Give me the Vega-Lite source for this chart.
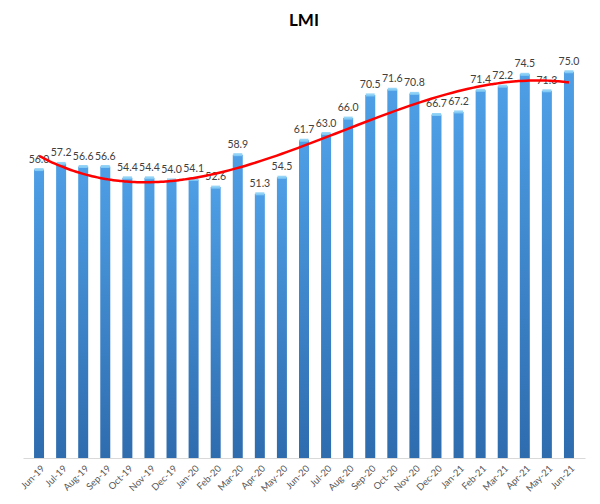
{
  "$schema": "https://vega.github.io/schema/vega-lite/v6.json",
  "autosize": "none",
  "width": 562,
  "height": 412,
  "padding": {"left": 23, "top": 46, "right": 15, "bottom": 46},
  "background": "white",
  "title": {"text": "LMI", "fontSize": 17, "font": "Lato", "fontWeight": "bold", "color": "#000000", "anchor": "middle", "offset": 16},
  "config": {"view": {"stroke": null}, "font": "Lato"},
  "data": {"values": [
    {"i": 0, "m": "Jun-19", "v": 56.0},
    {"i": 1, "m": "Jul-19", "v": 57.2},
    {"i": 2, "m": "Aug-19", "v": 56.6},
    {"i": 3, "m": "Sep-19", "v": 56.6},
    {"i": 4, "m": "Oct-19", "v": 54.4},
    {"i": 5, "m": "Nov-19", "v": 54.4},
    {"i": 6, "m": "Dec-19", "v": 54.0},
    {"i": 7, "m": "Jan-20", "v": 54.1},
    {"i": 8, "m": "Feb-20", "v": 52.6},
    {"i": 9, "m": "Mar-20", "v": 58.9},
    {"i": 10, "m": "Apr-20", "v": 51.3},
    {"i": 11, "m": "May-20", "v": 54.5},
    {"i": 12, "m": "Jun-20", "v": 61.7},
    {"i": 13, "m": "Jul-20", "v": 63.0},
    {"i": 14, "m": "Aug-20", "v": 66.0},
    {"i": 15, "m": "Sep-20", "v": 70.5},
    {"i": 16, "m": "Oct-20", "v": 71.6},
    {"i": 17, "m": "Nov-20", "v": 70.8},
    {"i": 18, "m": "Dec-20", "v": 66.7},
    {"i": 19, "m": "Jan-21", "v": 67.2},
    {"i": 20, "m": "Feb-21", "v": 71.4},
    {"i": 21, "m": "Mar-21", "v": 72.2},
    {"i": 22, "m": "Apr-21", "v": 74.5},
    {"i": 23, "m": "May-21", "v": 71.3},
    {"i": 24, "m": "Jun-21", "v": 75.0}
  ]},
  "encoding": {
    "x": {"field": "i", "type": "quantitative",
      "scale": {"domain": [-0.5, 24.5], "nice": false, "zero": false},
      "axis": {
        "values": [0,1,2,3,4,5,6,7,8,9,10,11,12,13,14,15,16,17,18,19,20,21,22,23,24],
        "labelExpr": "['Jun-19','Jul-19','Aug-19','Sep-19','Oct-19','Nov-19','Dec-19','Jan-20','Feb-20','Mar-20','Apr-20','May-20','Jun-20','Jul-20','Aug-20','Sep-20','Oct-20','Nov-20','Dec-20','Jan-21','Feb-21','Mar-21','Apr-21','May-21','Jun-21'][datum.value]",
        "title": null, "grid": false, "ticks": false,
        "labelAngle": -45, "labelFontSize": 9.5, "labelColor": "#595959",
        "labelPadding": 5, "domainColor": "#D9D9D9", "labelFlush": false, "labelOverlap": false
      }
    },
    "y": {"field": "v", "type": "quantitative",
      "scale": {"domain": [0, 80], "nice": false},
      "axis": null
    }
  },
  "layer": [
    {
      "mark": {"type": "bar", "size": 10,
        "color": {"gradient": "linear", "x1": 0, "y1": 0, "x2": 0, "y2": 1,
          "stops": [{"offset": 0, "color": "#4E9FE6"}, {"offset": 1, "color": "#2E6CAE"}]}
      }
    },
    {
      "mark": {"type": "tick", "orient": "horizontal", "size": 9, "thickness": 3, "color": "#8ACFF5", "opacity": 0.9}
    },
    {
      "mark": {"type": "text", "dy": -10, "fontSize": 10.5, "color": "#404040"},
      "encoding": {"text": {"field": "v", "type": "quantitative", "format": ".1f"}}
    },
    {
      "transform": [{"regression": "v", "on": "i", "method": "poly", "order": 3}],
      "mark": {"type": "line", "color": "#FF0000", "strokeWidth": 2.5, "interpolate": "monotone"},
      "encoding": {}
    }
  ]
}
